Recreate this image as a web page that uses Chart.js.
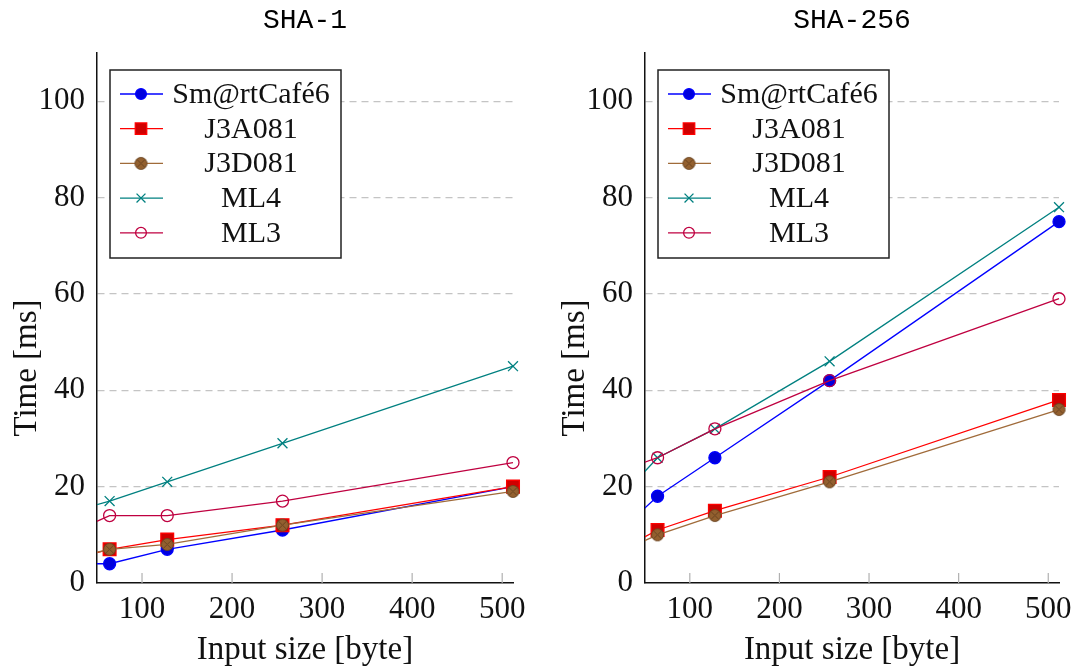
<!DOCTYPE html>
<html>
<head>
<meta charset="utf-8">
<script src="https://cdn.jsdelivr.net/npm/chart.js@4.4.1/dist/chart.umd.min.js"></script>
<style>
  body { margin: 0; background: #fff; }
  #wrap { position: relative; width: 1080px; height: 668px; }
  canvas { position: absolute; top: 0; }
</style>
</head>
<body>
<div id="wrap">
  <canvas id="sha1" width="540" height="668" style="left:0"></canvas>
  <canvas id="sha256" width="540" height="668" style="left:540px"></canvas>
</div>
<script>
// input sizes in bytes; the first one sits left of the visible x range (clipped, like the original)
const inputSizes = [32, 64, 128, 256, 512];
const cardNames = ["Sm@rtCafé6", "J3A081", "J3D081", "ML4", "ML3"];
const xTicks = [100, 200, 300, 400, 500];
const yTicks = [0, 20, 40, 60, 80, 100];

// SHA-1 times [ms]
const sha1SmartCafe = [4, 4, 7, 11, 20];
const sha1J3A081 = [5.4, 7, 9, 12, 20];
const sha1J3D081 = [5.6, 7, 8, 12, 19];
const sha1ML4 = [15.3, 17, 21, 29, 45];
const sha1ML3 = [11.3, 14, 14, 17, 25];

// SHA-256 times [ms]
const sha256SmartCafe = [12.5, 18, 26, 42, 75];
const sha256J3A081 = [7.8, 11, 15, 22, 38];
const sha256J3D081 = [7.3, 10, 14, 21, 36];
const sha256ML4 = [19.6, 26, 32, 46, 78];
const sha256ML3 = [23.9, 26, 32, 42, 59];

const serif = '"Liberation Serif", "Times New Roman", serif';
const mono = '"Liberation Mono", monospace';

function otimesMarker(r, fill, stroke) {
    let size = Math.ceil(2 * r + 3);
    let c = document.createElement("canvas");
    c.width = size;
    c.height = size;
    let g = c.getContext("2d");
    let m = size / 2;
    g.fillStyle = fill;
    g.strokeStyle = stroke;
    g.lineWidth = 1;
    g.beginPath();
    g.arc(m, m, r, 0, Math.PI * 2);
    g.fill();
    g.stroke();
    let d = r * 0.72;
    g.beginPath();
    g.moveTo(m - d, m - d);
    g.lineTo(m + d, m + d);
    g.moveTo(m + d, m - d);
    g.lineTo(m - d, m + d);
    g.stroke();
    return c;
}

const brownMark = otimesMarker(6, "#93602f", "#6a4421");

const cardStyles = [
    { line: "#0000ff", fill: "#0000dd", pointStyle: "circle", radius: 6 },
    { line: "#ff0000", fill: "#d00000", pointStyle: "rect", radius: 9 },
    { line: "#a06b3a", fill: "#93602f", pointStyle: brownMark, radius: 6 },
    { line: "#008080", fill: "#008080", pointStyle: "crossRot", radius: 7 },
    { line: "#bf0040", fill: "rgba(0,0,0,0)", pointStyle: "circle", radius: 6 },
];

function makeDatasets(seriesList) {
    return seriesList.map((values, i) => ({
        label: cardNames[i],
        data: values.map((v, k) => ({ x: inputSizes[k], y: v })),
        borderColor: cardStyles[i].line,
        backgroundColor: cardStyles[i].fill,
        pointBorderColor: cardStyles[i].line,
        pointBackgroundColor: cardStyles[i].fill,
        pointStyle: cardStyles[i].pointStyle,
        pointRadius: cardStyles[i].radius,
        pointBorderWidth: 1.3,
        borderWidth: 1.3,
        tension: 0,
        clip: { left: 0, top: 0, bottom: 0, right: 12 },
        order: seriesList.length - i,
    }));
}

// boxed legend with line + marker samples, text centered in its column
const boxLegend = {
    id: "boxLegend",
    afterDatasetsDraw(chart) {
        let ctx = chart.ctx;
        let area = chart.chartArea;
        let bx = area.left + 13, by = area.top + 17, bw = 231, bh = 188;
        ctx.save();
        ctx.fillStyle = "#fff";
        ctx.fillRect(bx, by, bw, bh);
        ctx.strokeStyle = "#222";
        ctx.lineWidth = 1.5;
        ctx.strokeRect(bx, by, bw, bh);
        chart.data.datasets.forEach((ds, i) => {
            let y = by + 24 + i * 34.7;
            ctx.strokeStyle = ds.borderColor;
            ctx.lineWidth = 1.3;
            ctx.beginPath();
            ctx.moveTo(bx + 10, y);
            ctx.lineTo(bx + 53, y);
            ctx.stroke();
            ctx.fillStyle = ds.pointBackgroundColor;
            ctx.strokeStyle = ds.pointBorderColor;
            Chart.helpers.drawPoint(ctx, {
                pointStyle: ds.pointStyle, rotation: 0,
                radius: ds.pointRadius * 0.9, borderWidth: 1.3
            }, bx + 31, y);
            ctx.fillStyle = "#111";
            ctx.font = "30px " + serif;
            ctx.textAlign = "center";
            ctx.textBaseline = "middle";
            ctx.fillText(ds.label, bx + 141, y + 1);
        });
        ctx.restore();
    }
};

// inward x tick marks, panel title over the plot area, y axis label
const decorations = {
    id: "decorations",
    afterDraw(chart, args, opts) {
        let ctx = chart.ctx;
        let area = chart.chartArea;
        let xs = chart.scales.x;
        ctx.save();
        ctx.strokeStyle = "#b0b0b0";
        ctx.lineWidth = 1.2;
        xTicks.forEach(v => {
            let px = xs.getPixelForValue(v);
            ctx.beginPath();
            ctx.moveTo(px, area.bottom - 10);
            ctx.lineTo(px, area.bottom);
            ctx.stroke();
        });

        ctx.fillStyle = "#000";
        ctx.textAlign = "center";
        ctx.textBaseline = "middle";
        ctx.font = "28px " + mono;
        ctx.fillText(opts.title, (area.left + area.right) / 2, 21);

        ctx.font = "33px " + serif;
        ctx.fillStyle = "#111";
        ctx.translate(area.left - 70, (area.top + area.bottom) / 2 + 50);
        ctx.rotate(-Math.PI / 2);
        ctx.fillText("Time [ms]", 0, 0);
        ctx.restore();
    }
};

function makeChart(id, title, seriesList, padLeft, padRight) {
    let ctx = document.getElementById(id).getContext("2d");
    return new Chart(ctx, {
        type: "line",
        data: { datasets: makeDatasets(seriesList) },
        options: {
            responsive: false,
            animation: false,
            devicePixelRatio: 1,
            layout: { padding: { left: padLeft, right: padRight, top: 53, bottom: 0 } },
            plugins: {
                legend: { display: false },
                tooltip: { enabled: false },
                title: { display: false },
                decorations: { title: title },
            },
            scales: {
                x: {
                    type: "linear",
                    min: 50,
                    max: 512,
                    afterBuildTicks: s => { s.ticks = xTicks.map(v => ({ value: v })); },
                    afterFit: s => { s.height = 85; },
                    grid: { display: false, drawTicks: false },
                    border: { display: true, color: "#111", width: 1.5 },
                    ticks: { color: "#111", padding: 8, font: { family: serif, size: 31 } },
                    title: {
                        display: true,
                        text: "Input size [byte]",
                        color: "#111",
                        font: { family: serif, size: 33, lineHeight: 1 },
                        padding: { top: 0, bottom: 1 },
                    },
                },
                y: {
                    min: 0,
                    max: 110,
                    afterBuildTicks: s => { s.ticks = yTicks.map(v => ({ value: v })); },
                    afterFit: s => { s.width = 97; },
                    grid: {
                        drawTicks: false,
                        color: c => (c.tick && c.tick.value === 0 ? "rgba(0,0,0,0)" : "#c4c4c4"),
                        lineWidth: 1.3,
                    },
                    border: { display: true, color: "#111", width: 1.5, dash: [7, 5] },
                    ticks: { color: "#111", padding: 12, font: { family: serif, size: 31 } },
                },
            },
        },
        plugins: [boxLegend, decorations],
    });
}

makeChart("sha1", "SHA-1", [sha1SmartCafe, sha1J3A081, sha1J3D081, sha1ML4, sha1ML3], 0, 27);
makeChart("sha256", "SHA-256", [sha256SmartCafe, sha256J3A081, sha256J3D081, sha256ML4, sha256ML3], 8, 19);
</script>
</body>
</html>
